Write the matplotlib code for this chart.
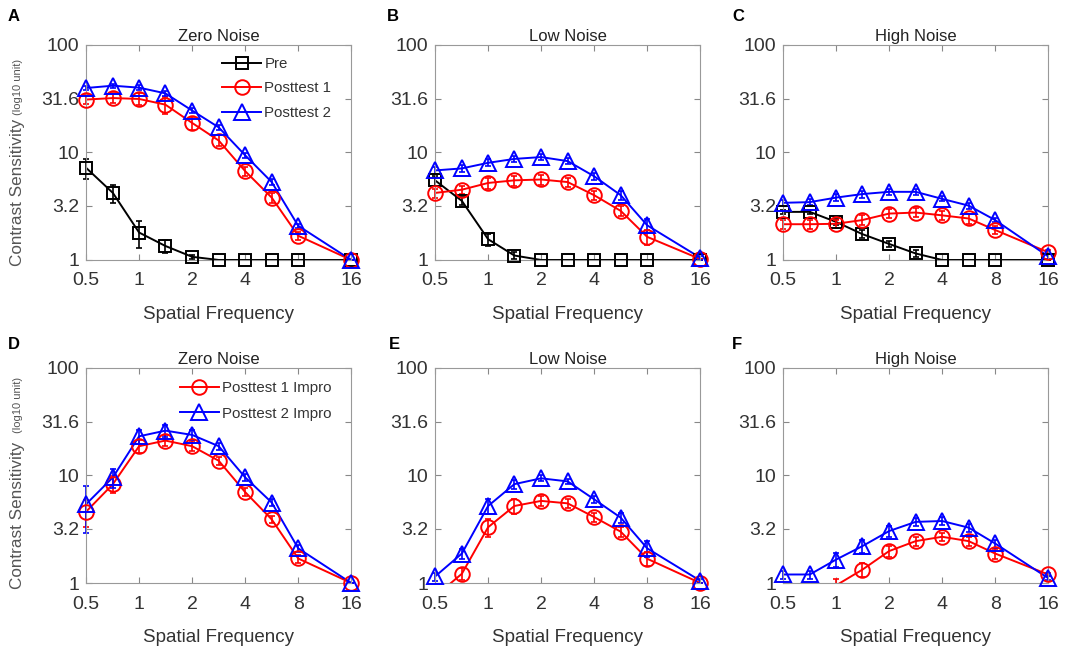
import numpy as np
import matplotlib
matplotlib.use("Agg")
import matplotlib.pyplot as plt
from matplotlib.lines import Line2D

plt.rcParams['font.family'] = ['Liberation Sans', 'DejaVu Sans']

# spatial frequencies (c/deg)
sf = [0.5, 0.71, 1, 1.41, 2, 2.83, 4, 5.66, 8, 16]

# --- top row: raw contrast sensitivity ---
zero_pre = [7.2, 4.2, 1.8, 1.35, 1.07, 1.0, 1.0, 1.0, 1.0, 1.0]
zero_pre_err = [1.5, 0.8, 0.5, 0.2, 0.05, 0, 0, 0, 0, 0]
zero_p1 = [31, 32, 31.4, 27.8, 18.8, 12.9, 6.7, 3.8, 1.68, 1.0]
zero_p1_err = [3, 3.5, 4, 5, 2.5, 1.5, 0.6, 0.4, 0.15, 0]
zero_p2 = [39.7, 41.7, 40, 35.4, 24.5, 17.1, 9.4, 5.3, 2.08, 1.0]
zero_p2_err = [2, 2, 2, 2, 1.5, 1, 0.5, 0.3, 0.1, 0]

low_pre = [5.5, 3.54, 1.56, 1.1, 1.0, 1.0, 1.0, 1.0, 1.0, 1.0]
low_pre_err = [0.6, 0.3, 0.2, 0.08, 0, 0, 0, 0, 0, 0]
low_p1 = [4.2, 4.5, 5.2, 5.5, 5.6, 5.3, 4.0, 2.86, 1.64, 1.02]
low_p1_err = [0.4, 0.4, 0.6, 0.6, 0.6, 0.5, 0.4, 0.3, 0.25, 0]
low_p2 = [6.8, 7.1, 8.0, 8.7, 9.05, 8.3, 6.0, 4.0, 2.1, 1.05]
low_p2_err = [0.5, 0.5, 0.6, 0.6, 0.6, 0.5, 0.5, 0.4, 0.3, 0.05]

high_pre = [2.8, 2.8, 2.26, 1.74, 1.41, 1.15, 1.0, 1.0, 1.0, 1.0]
high_pre_err = [0.1, 0.1, 0.15, 0.15, 0.1, 0.08, 0, 0, 0, 0]
high_p1 = [2.15, 2.15, 2.17, 2.35, 2.7, 2.76, 2.6, 2.43, 1.9, 1.18]
high_p1_err = [0.2, 0.2, 0.2, 0.25, 0.25, 0.25, 0.25, 0.25, 0.15, 0.05]
high_p2 = [3.4, 3.45, 3.8, 4.1, 4.3, 4.3, 3.7, 3.2, 2.35, 1.08]
high_p2_err = [0.2, 0.2, 0.3, 0.3, 0.3, 0.3, 0.2, 0.2, 0.1, 0.05]

# --- bottom row: improvement ---
zero_i1 = [4.6, 8.3, 18.7, 21.1, 18.7, 13.7, 7.0, 3.9, 1.69, 1.0]
zero_i1_err = [1.3, 1.5, 2.5, 2.5, 2, 1.2, 0.6, 0.3, 0.15, 0]
zero_i2 = [5.4, 9.6, 23.1, 26.1, 23.8, 18.7, 9.6, 5.6, 2.1, 1.0]
zero_i2_err = [2.5, 2, 3.5, 3.5, 2.5, 1.5, 0.7, 0.4, 0.15, 0]

low_i1 = [0.75, 1.22, 3.3, 5.2, 5.8, 5.5, 4.1, 3.0, 1.68, 1.0]
low_i1_err = [0.2, 0.15, 0.6, 0.8, 0.6, 0.5, 0.4, 0.3, 0.25, 0]
low_i2 = [1.15, 1.88, 5.2, 8.3, 9.4, 8.8, 6.0, 4.05, 2.1, 1.05]
low_i2_err = [0.1, 0.2, 0.8, 0.8, 0.6, 0.5, 0.5, 0.4, 0.35, 0.05]

high_i1 = [0.8, 0.85, 0.95, 1.33, 1.98, 2.45, 2.69, 2.45, 1.88, 1.2]
high_i1_err = [0.1, 0.1, 0.15, 0.2, 0.25, 0.25, 0.25, 0.25, 0.2, 0.05]
high_i2 = [1.2, 1.2, 1.65, 2.2, 3.04, 3.7, 3.77, 3.27, 2.33, 1.11]
high_i2_err = [0.1, 0.1, 0.25, 0.3, 0.35, 0.3, 0.3, 0.3, 0.2, 0.05]

titles = ['Zero Noise', 'Low Noise', 'High Noise']
letters = ['A', 'B', 'C', 'D', 'E', 'F']
xticks = [0.5, 1, 2, 4, 8, 16]
xticklabels = ['0.5', '1', '2', '4', '8', '16']
yticks = [1, 3.2, 10, 31.6, 100]
yticklabels = ['1', '3.2', '10', '31.6', '100']

top_row = [
    [(zero_pre, zero_pre_err, 'k', 's'), (zero_p1, zero_p1_err, 'r', 'o'), (zero_p2, zero_p2_err, 'b', '^')],
    [(low_pre, low_pre_err, 'k', 's'), (low_p1, low_p1_err, 'r', 'o'), (low_p2, low_p2_err, 'b', '^')],
    [(high_pre, high_pre_err, 'k', 's'), (high_p1, high_p1_err, 'r', 'o'), (high_p2, high_p2_err, 'b', '^')],
]
bottom_row = [
    [(zero_i1, zero_i1_err, 'r', 'o'), (zero_i2, zero_i2_err, 'b', '^')],
    [(low_i1, low_i1_err, 'r', 'o'), (low_i2, low_i2_err, 'b', '^')],
    [(high_i1, high_i1_err, 'r', 'o'), (high_i2, high_i2_err, 'b', '^')],
]

msize = {'s': 8.5, 'o': 10.5, '^': 12}
tcol = '#333333'

fig = plt.figure(figsize=(10.65, 6.48), dpi=100)
lefts = [0.0808, 0.4085, 0.7352]
bottoms = [0.5988, 0.1003]
w, h = 0.249, 0.332

x = np.array(sf)
axes = []
for r, rowdata in enumerate([top_row, bottom_row]):
    for c in range(3):
        ax = fig.add_axes([lefts[c], bottoms[r], w, h])
        axes.append(ax)
        for y, e, col, mk in rowdata[c]:
            y = np.array(y)
            e = np.array(e)
            ax.plot(x, y, color=col, lw=1.4, zorder=2)
            # error bars fully inside the y-range are not clipped at the edges
            inside = (y - e) >= 0.999
            for sel, clip in [(inside, False), (~inside, True)]:
                if sel.any():
                    eb = ax.errorbar(x[sel], y[sel], yerr=e[sel], fmt='none', ecolor=col,
                                     elinewidth=1.2, capsize=2, capthick=1.2, zorder=2)
                    for art in eb.lines[1] + eb.lines[2]:
                        art.set_clip_on(clip)
            m = y >= 0.999
            ax.plot(x[m], y[m], ls='none', marker=mk, ms=msize[mk], mfc='none',
                    mec=col, mew=1.4, clip_on=False, zorder=3)
        ax.set_xscale('log', base=2)
        ax.set_yscale('log')
        ax.set_xlim(0.5, 16)
        ax.set_ylim(1, 100)
        ax.set_xticks(xticks)
        ax.set_xticklabels(xticklabels)
        ax.set_yticks(yticks)
        ax.set_yticklabels(yticklabels)
        ax.minorticks_off()
        ax.tick_params(direction='in', length=4, width=0.8, top=True, right=True,
                       labelsize=14, colors='#888888', labelcolor=tcol)
        ax.tick_params(axis='x', pad=9)
        ax.tick_params(axis='y', pad=5)
        for s in ax.spines.values():
            s.set_color('#999999')
            s.set_linewidth(0.8)
        ax.set_title(titles[c], fontsize=12, color='#222222', pad=3)
        ax.set_xlabel('Spatial Frequency', fontsize=13.5, color=tcol, labelpad=12)

# legends
h_pre = Line2D([], [], color='k', lw=1.4, marker='s', ms=8.5, mfc='none', mew=1.4)
h_p1 = Line2D([], [], color='r', lw=1.4, marker='o', ms=10.5, mfc='none', mew=1.4)
h_p2 = Line2D([], [], color='b', lw=1.4, marker='^', ms=12, mfc='none', mew=1.4)
axes[0].legend([h_pre, h_p1, h_p2], ['Pre', 'Posttest 1', 'Posttest 2'],
               loc='upper right', bbox_to_anchor=(0.97, 1.0), frameon=False,
               fontsize=10.8, handlelength=2.6, handletextpad=0.2, labelspacing=0.7,
               borderaxespad=0.4, labelcolor=tcol)
axes[3].legend([h_p1, h_p2], ['Posttest 1 Impro', 'Posttest 2 Impro'],
               loc='upper right', bbox_to_anchor=(0.975, 1.0), frameon=False,
               fontsize=10.8, handlelength=2.6, handletextpad=0.2, labelspacing=0.75,
               borderaxespad=0.5, labelcolor=tcol)

# y labels
for yc, ys in [(0.703, 0.866), (0.205, 0.375)]:
    fig.text(0.016, yc, 'Contrast Sensitivity', rotation=90, ha='center', va='center',
             fontsize=12.3, color='#555555')
    fig.text(0.017, ys, '(log10 unit)', rotation=90, ha='center', va='center',
             fontsize=8, color='#555555')

# panel letters
letter_pos = [(0.013, 0.975), (0.369, 0.975), (0.693, 0.975),
              (0.013, 0.468), (0.370, 0.468), (0.692, 0.468)]
for L, (lx, ly) in zip(letters, letter_pos):
    fig.text(lx, ly, L, fontsize=12, fontweight='bold', ha='center', va='center')

fig.savefig('out.png', dpi=100)
